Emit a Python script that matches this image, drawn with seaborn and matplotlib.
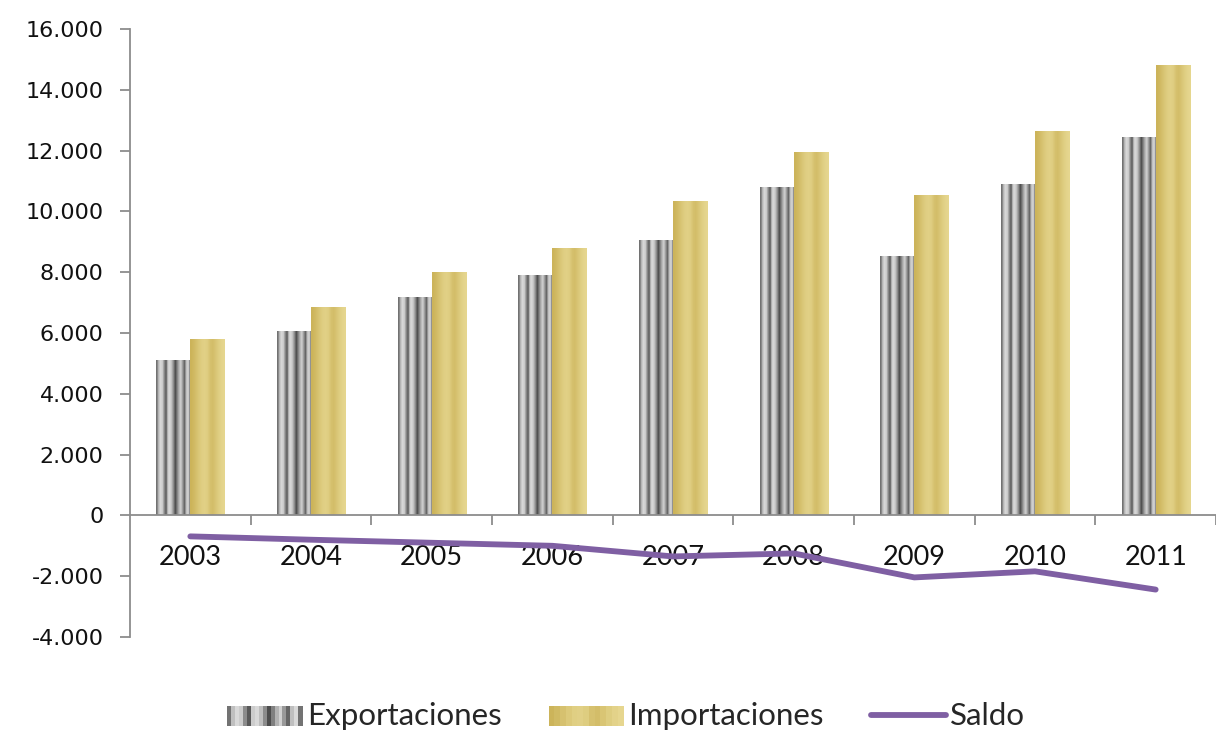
import numpy as np
import pandas as pd
import matplotlib
matplotlib.use("Agg")
import matplotlib.pyplot as plt
import matplotlib.ticker as mticker
from matplotlib.patches import Rectangle
from matplotlib.lines import Line2D
from matplotlib.legend_handler import HandlerBase
import seaborn as sns

years = ["2003", "2004", "2005", "2006", "2007", "2008", "2009", "2010", "2011"]
exportaciones = [5100, 6050, 7200, 7900, 9050, 10800, 8530, 10900, 12450]
importaciones = [5800, 6850, 8000, 8790, 10340, 11950, 10540, 12640, 14820]
saldo = [-690, -800, -900, -1000, -1350, -1250, -2040, -1840, -2440]
y_ticks = [-4000, -2000, 0, 2000, 4000, 6000, 8000, 10000, 12000, 14000, 16000]

# stripe profiles across one bar (left -> right)
exp_profile = np.array([0.45, 0.75, 0.85, 0.8, 0.55, 0.35, 0.8, 0.85, 0.75, 0.55, 0.3,
                        0.5, 0.7, 0.82, 0.6, 0.4, 0.75, 0.85, 0.45])
imp_profile = np.array([0.1, 0.25, 0.45, 0.65, 0.8, 0.85, 0.75, 0.45, 0.35, 0.55, 0.75, 0.9, 1.0])
gold_dark = np.array([0.79, 0.69, 0.33])
gold_light = np.array([0.90, 0.84, 0.56])


def exp_img():
    return exp_profile[None, :, None] * np.ones((1, 1, 3))


def imp_img():
    t = imp_profile[None, :, None]
    return gold_dark * (1 - t) + gold_light * t


df = pd.DataFrame({
    "year": years * 2,
    "value": exportaciones + importaciones,
    "serie": ["Exportaciones"] * len(years) + ["Importaciones"] * len(years),
})

sns.set_style("white")
plt.rcParams["font.family"] = ["Lato", "DejaVu Sans"]

fig = plt.figure(figsize=(12.16, 7.32), dpi=100)
ax = fig.add_axes([130 / 1216, 1 - 637 / 732, 1 - 130 / 1216, (637 - 29) / 732])

sns.barplot(data=df, x="year", y="value", hue="serie", order=years,
            palette={"Exportaciones": "#bbbbbb", "Importaciones": "#d6c26a"},
            width=0.565, gap=0, legend=False, ax=ax, saturation=1)

# gradient / striped fills clipped to each bar
for cont, maker in zip(ax.containers, [exp_img, imp_img]):
    for bar in cont:
        x0, y0 = bar.get_x(), bar.get_y()
        w, h = bar.get_width(), bar.get_height()
        im = ax.imshow(maker(), extent=[x0, x0 + w, y0, y0 + h], aspect="auto",
                       interpolation="bilinear", zorder=2)
        im.set_clip_path(bar)
        bar.set_facecolor("none")
        bar.set_edgecolor("none")
ax.set_ylim(-4000, 16000)
ax.set_xlim(-0.5, 8.4)

sns.lineplot(x=np.arange(len(years)), y=saldo, color="#7f5fa3", linewidth=4.2,
             ax=ax, zorder=5, solid_capstyle="round")

# axes styling
for s in ["top", "right"]:
    ax.spines[s].set_visible(False)
ax.spines["left"].set_color("#8c8c8c")
ax.spines["left"].set_linewidth(1.3)
ax.spines["bottom"].set_position(("data", 0))
ax.spines["bottom"].set_color("#8c8c8c")
ax.spines["bottom"].set_linewidth(1.3)

ax.set_yticks(y_ticks)
ax.yaxis.set_major_formatter(mticker.FuncFormatter(lambda v, p: f"{int(v):,}".replace(",", ".")))
ax.tick_params(axis="y", left=True, direction="out", length=7, width=1.3, color="#8c8c8c",
               pad=12, labelsize=16, labelcolor="#111111")
for lab in ax.get_yticklabels():
    lab.set_fontfamily("DejaVu Sans")

ax.set_xticks(np.arange(len(years)) + 0.5)
ax.set_xticklabels([])
ax.set_xticks(np.arange(len(years)), minor=True)
ax.set_xticklabels(years, minor=True)
ax.tick_params(axis="x", which="major", bottom=True, direction="out", length=7, width=1.3,
               color="#8c8c8c")
ax.tick_params(axis="x", which="minor", bottom=True, length=0, pad=21, labelsize=19.5,
               labelcolor="#111111")
ax.set_xlabel("")
ax.set_ylabel("")
ax.grid(False)


class StripeHandler(HandlerBase):
    def __init__(self, maker):
        super().__init__()
        self.maker = maker

    def create_artists(self, legend, orig, xd, yd, width, height, fontsize, trans):
        cols = self.maker()[0]
        n = len(cols)
        arts = []
        for i, c in enumerate(cols):
            r = Rectangle((xd + width * i / n, yd), width / n + 0.3, height,
                          facecolor=c, edgecolor="none", transform=trans)
            arts.append(r)
        return arts


h_exp = Rectangle((0, 0), 1, 1, label="Exportaciones")
h_imp = Rectangle((0, 0), 1, 1, label="Importaciones")
h_sal = Line2D([], [], color="#7f5fa3", linewidth=4.2, label="Saldo")
fig.legend(handles=[h_exp, h_imp, h_sal], loc="center", bbox_to_anchor=(0.515, 1 - 716 / 732),
           ncol=3, frameon=False, fontsize=22.5, handlelength=2.4, handleheight=0.6,
           handletextpad=0.15, columnspacing=1.5,
           handler_map={h_exp: StripeHandler(exp_img), h_imp: StripeHandler(imp_img)})

fig.savefig("out.png", dpi=100)
